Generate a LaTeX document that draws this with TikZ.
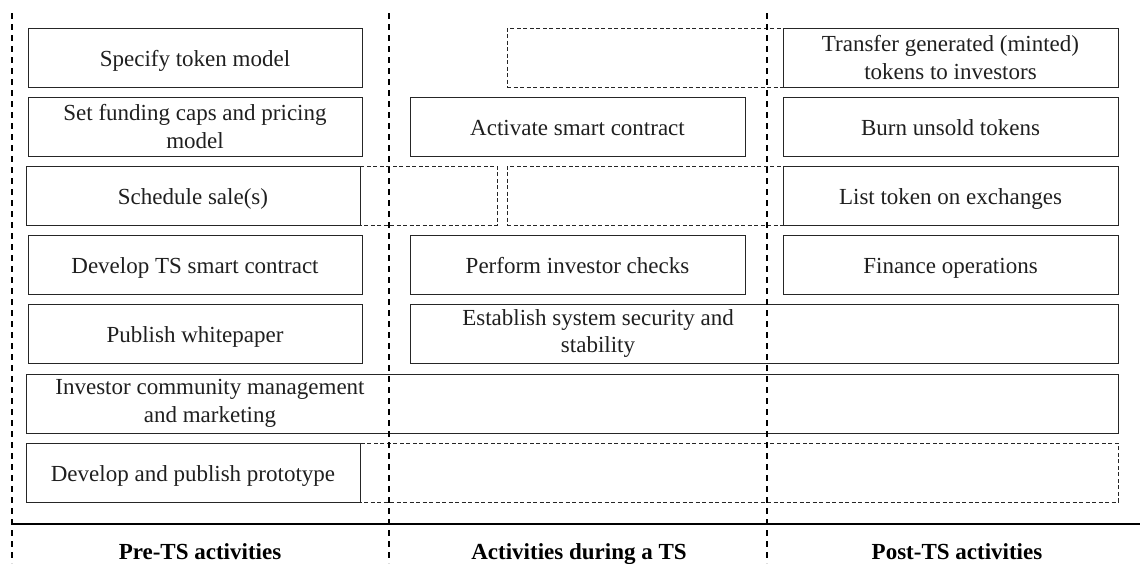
\documentclass[tikz,border=0pt]{standalone}
\usepackage{fontspec}
\setmainfont{Liberation Serif}
\begin{document}
\begin{tikzpicture}[x=1pt,y=-1pt,
  every node/.style={font=\fontsize{23}{27.5}\selectfont, text=black!88},
  one/.style={text height=20pt, text depth=2pt},
  box/.style={draw=black!85, line width=0.9pt, inner sep=0pt, minimum height=59pt, align=center},
  dbox/.style={draw=black!85, line width=0.8pt, dash pattern=on 4pt off 2.5pt, inner sep=0pt, minimum height=59pt},
  lane/.style={draw=black, line width=1.8pt, dash pattern=on 6pt off 5pt},
  lbl/.style={font=\fontsize{23}{27.5}\selectfont\bfseries, text=black, text height=15.5pt, text depth=5pt}]
\useasboundingbox (0,0) rectangle (1140,563);
% dashed background boxes
\node[dbox, minimum width=611pt] (d1) at (812.5,57.5) {};
\node[dbox, minimum width=471pt] (d3a) at (261.5,195.5) {};
\node[dbox, minimum width=611pt] (d3b) at (812.5,195.5) {};
\node[dbox, minimum width=1092pt] (d7) at (572,472.5) {};
% pre-TS boxes
\node[box, one, minimum width=334pt] (spec) at (195,57.5) {Specify token model};
\node[box, minimum width=334pt] (fund) at (195,126.5) {Set funding caps and pricing\\model};
\node[box, one, minimum width=334pt] (sched) at (193,195.5) {Schedule sale(s)};
\node[box, one, minimum width=334pt] (dev) at (195,264.5) {Develop TS smart contract};
\node[box, one, minimum width=334pt] (pub) at (195,333.5) {Publish whitepaper};
\node[box, minimum width=1092pt] (inv) at (572,403.5) {};
\node (invt) at (210,403.5) [align=center] {Investor community management\\and marketing};
\node[box, one, minimum width=334pt] (proto) at (193,472.5) {Develop and publish prototype};
% during-TS boxes
\node[box, one, minimum width=335pt] (act) at (577.5,126.5) {Activate smart contract};
\node[box, one, minimum width=335pt] (chk) at (577.5,264.5) {Perform investor checks};
\node[box, minimum width=708pt] (est) at (764,333.5) {};
\node (estt) at (598,333.5) [align=center] {Establish system security and\\stability};
% post-TS boxes
\node[box, minimum width=335pt] (tra) at (950.5,57.5) {Transfer generated (minted)\\tokens to investors};
\node[box, one, minimum width=335pt] (burn) at (950.5,126.5) {Burn unsold tokens};
\node[box, one, minimum width=335pt] (list) at (950.5,195.5) {List token on exchanges};
\node[box, one, minimum width=335pt] (fin) at (950.5,264.5) {Finance operations};
% lanes
\coordinate (l1t) at (12,13); \coordinate (l1b) at (12,563);
\coordinate (l2t) at (389,13); \coordinate (l2b) at (389,563);
\coordinate (l3t) at (767,13); \coordinate (l3b) at (767,563);
\draw[lane] (l1t) -- (l1b);
\draw[lane] (l2t) -- (l2b);
\draw[lane] (l3t) -- (l3b);
\coordinate (hl) at (12,524); \coordinate (hr) at (1140,524);
\draw[line width=2pt, black] (hl) -- (hr);
\node[lbl] (pre) at (200,554) {Pre-TS activities};
\node[lbl] (dur) at (579,554) {Activities during a TS};
\node[lbl] (post) at (957,554) {Post-TS activities};
\end{tikzpicture}
\end{document}
